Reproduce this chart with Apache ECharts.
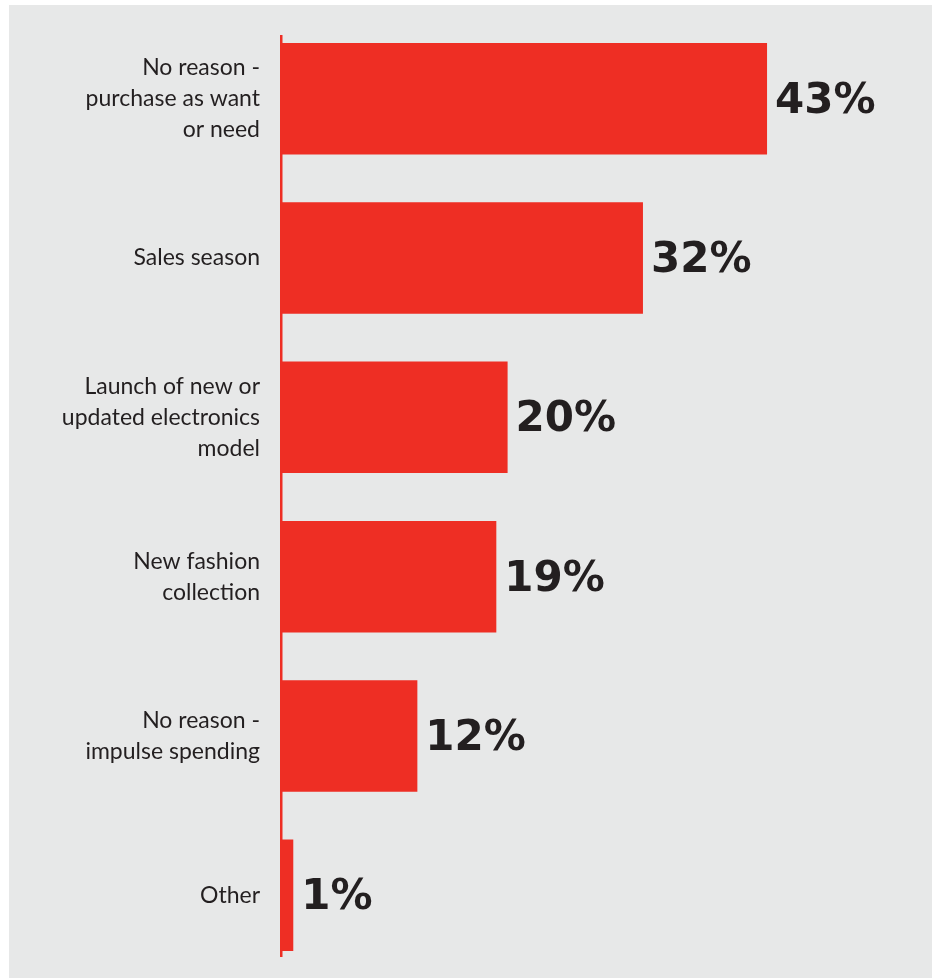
<!DOCTYPE html>
<html>
<head>
<meta charset="utf-8">
<script src="https://cdn.jsdelivr.net/npm/echarts@6/dist/echarts.min.js"></script>
<style>
html, body { margin: 0; padding: 0; background: #ffffff; }
#panel { position: absolute; left: 9px; top: 5px; width: 923px; height: 973px; background: #e7e8e8; }
#chart { position: absolute; left: 0; top: 0; width: 936px; height: 979px; }
</style>
</head>
<body>
<div id="panel"></div>
<div id="chart"></div>
<script>
const categories = [
  "No reason -\npurchase as want\nor need",
  "Sales season",
  "Launch of new or\nupdated electronics\nmodel",
  "New fashion\ncollection",
  "No reason -\nimpulse spending",
  "Other"
];
const values = [43, 32, 20, 19, 12, 1];

const RED = '#ee2e24';
const INK = '#231f20';

const chart = echarts.init(document.getElementById('chart'), null, { renderer: 'canvas' });
chart.setOption({
  backgroundColor: 'transparent',
  animation: false,
  grid: { left: 282, top: 19, width: 564, bottom: 4, containLabel: false },
  xAxis: {
    type: 'value', min: 0, max: 50, show: false
  },
  yAxis: {
    type: 'category',
    data: categories,
    inverse: true,
    axisLine: { show: false },
    axisTick: { show: false },
    axisLabel: {
      margin: 22,
      color: INK,
      fontFamily: 'Lato',
      fontSize: 23,
      lineHeight: 31,
      align: 'right',
      padding: [5, 0, 0, 0]
    }
  },
  series: [{
    type: 'bar',
    data: values,
    barCategoryGap: '30%',
    itemStyle: { color: RED },
    label: {
      show: true,
      position: 'right',
      distance: 8,
      offset: [0, 3],
      formatter: '{c}%',
      color: INK,
      fontFamily: 'DejaVu Sans',
      fontWeight: 'bold',
      fontSize: 42
    }
  }],
  graphic: [{
    type: 'rect',
    shape: { x: 280, y: 35, width: 2.5, height: 922 },
    style: { fill: RED },
    z: 10
  }]
});
</script>
</body>
</html>
